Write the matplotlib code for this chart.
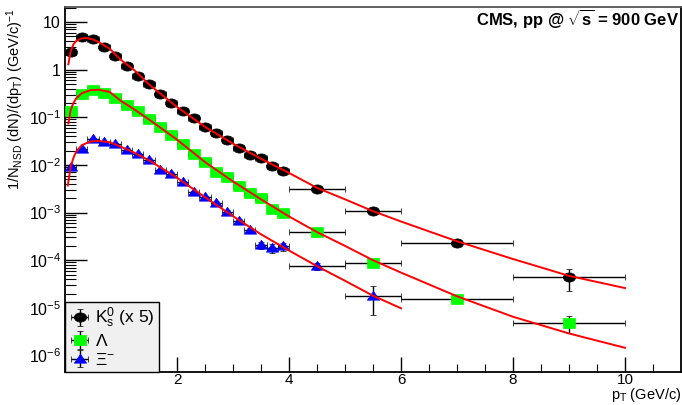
import math
import matplotlib
matplotlib.use("Agg")
import matplotlib.pyplot as plt
from matplotlib.path import Path
from matplotlib.transforms import Affine2D
from matplotlib.ticker import FixedLocator, FuncFormatter, NullFormatter

plt.rcParams['font.family'] = ['Liberation Sans', 'DejaVu Sans']
plt.rcParams['mathtext.fontset'] = 'custom'
plt.rcParams['mathtext.rm'] = 'Liberation Sans'
plt.rcParams['mathtext.it'] = 'Liberation Sans:italic'
plt.rcParams['mathtext.bf'] = 'Liberation Sans:bold'

# ---------------- data ----------------
pt = [0.1, 0.3, 0.5, 0.7, 0.9, 1.1, 1.3, 1.5, 1.7, 1.9,
      2.1, 2.3, 2.5, 2.7, 2.9, 3.1, 3.3, 3.5, 3.7, 3.9]
pt_err = [0.1] * 20

k0s_pt = pt + [4.5, 5.5, 7.0, 9.0]
k0s_xerr = pt_err + [0.5, 0.5, 1.0, 1.0]
k0s_y = [2.3, 4.8, 4.4, 3.0, 1.95, 1.2, 0.74, 0.49, 0.305, 0.2,
         0.134, 0.099, 0.063, 0.046, 0.033, 0.023, 0.0164, 0.0142, 0.0097, 0.0076,
         0.0032, 0.00107, 2.35e-4, 4.4e-5]
k0s_yerr = [0.05, 0.1, 0.09, 0.06, 0.04, 0.025, 0.015, 0.01, 0.006, 0.004,
            0.003, 0.002, 0.0013, 0.001, 0.0007, 0.0005, 0.0004, 0.0003, 0.0002, 0.0002,
            1.5e-4, 6e-5, 1.8e-5, 2.1e-5]

lam_pt = pt + [4.5, 5.5, 7.0, 9.0]
lam_xerr = pt_err + [0.5, 0.5, 1.0, 1.0]
lam_y = [0.134, 0.305, 0.37, 0.33, 0.26, 0.185, 0.134, 0.091, 0.062, 0.042,
         0.028, 0.0172, 0.0114, 0.0071, 0.0055, 0.0037, 0.0026, 0.0020, 0.0012, 0.00098,
         3.9e-4, 8.7e-5, 1.5e-5, 4.9e-6]
lam_yerr = [0.004, 0.008, 0.009, 0.008, 0.006, 0.005, 0.004, 0.003, 0.002, 0.0013,
            0.0009, 0.0006, 0.0004, 0.0003, 0.0002, 0.00015, 0.0001, 8e-5, 6e-5, 5e-5,
            2.5e-5, 1.2e-5, 2.5e-6, 2e-6]

xi_pt = pt + [4.5, 5.5]
xi_xerr = pt_err + [0.5, 0.5]
xi_y = [0.0089, 0.022, 0.035, 0.030, 0.028, 0.021, 0.0167, 0.0129, 0.0079, 0.0066,
        0.0043, 0.0027, 0.0021, 0.0016, 0.00102, 6.8e-4, 4.3e-4, 2.1e-4, 1.8e-4, 1.95e-4,
        7.5e-5, 1.8e-5]
xi_yerr = [0.0008, 0.0015, 0.002, 0.0018, 0.0016, 0.0012, 0.001, 0.0008, 0.0005, 0.0004,
           0.0003, 0.0002, 0.00015, 0.00012, 9e-5, 7e-5, 5e-5, 3.5e-5, 3.5e-5, 4e-5,
           1.2e-5, 1.1e-5]

# fit curves
k0s_fit_x = [0.06, 0.1, 0.15, 0.2, 0.3, 0.4, 0.5, 0.6, 0.8, 1.0, 1.25, 1.5, 2.0, 2.5,
             3.0, 3.5, 4.0, 4.5, 5.0, 5.5, 6.0, 7.0, 8.0, 9.0, 10.0]
k0s_fit_y = [1.3, 2.4, 3.4, 4.0, 4.55, 4.6, 4.3, 3.8, 2.75, 1.6, 0.95, 0.49, 0.165, 0.063,
             0.028, 0.0135, 0.0068, 0.0033, 0.0019, 0.00107, 6.5e-4, 2.5e-4, 1.06e-4, 4.7e-5, 2.6e-5]

lam_fit_x = [0.06, 0.1, 0.15, 0.2, 0.3, 0.45, 0.6, 0.8, 1.0, 1.2, 1.5, 2.0, 2.5,
             3.0, 3.5, 4.0, 4.5, 5.0, 5.5, 6.0, 7.0, 8.0, 9.0, 10.0]
lam_fit_y = [0.074, 0.14, 0.2, 0.25, 0.32, 0.37, 0.38, 0.34, 0.22, 0.157, 0.09, 0.034, 0.0115,
             0.0045, 0.0019, 8.3e-4, 3.9e-4, 2.0e-4, 1.0e-4, 5.5e-5, 1.75e-5, 6.5e-6, 2.9e-6, 1.45e-6]

xi_fit_x = [0.05, 0.1, 0.15, 0.2, 0.3, 0.45, 0.6, 0.8, 1.0, 1.2, 1.5, 2.0, 2.5,
            3.0, 3.5, 4.0, 4.5, 5.0, 5.5, 6.0]
xi_fit_y = [0.0037, 0.009, 0.014, 0.019, 0.026, 0.031, 0.032, 0.030, 0.024, 0.019, 0.0125,
            0.0054, 0.0021, 8.4e-4, 3.5e-4, 1.6e-4, 7.5e-5, 3.7e-5, 1.8e-5, 9.8e-6]

x_major = [2, 4, 6, 8, 10]
y_exponents = [-6, -5, -4, -3, -2, -1, 0, 1]

# ---------------- marker shapes (horizontally stretched like the reference) ----------------
ellipse = Path.unit_circle().transformed(Affine2D().scale(1.0, 0.75))
rect = Path([(-1, -0.75), (1, -0.75), (1, 0.75), (-1, 0.75), (-1, -0.75)],
            [Path.MOVETO, Path.LINETO, Path.LINETO, Path.LINETO, Path.CLOSEPOLY])
tri = Path([(-1, -0.6), (1, -0.6), (0, 0.85), (-1, -0.6)],
           [Path.MOVETO, Path.LINETO, Path.LINETO, Path.CLOSEPOLY])

# ---------------- figure ----------------
fig = plt.figure(figsize=(6.82, 4.05), dpi=100)
ax = fig.add_axes([65 / 682, 1 - 372 / 405, 616 / 682, 365 / 405])
ax.set_yscale('log')
ymin, ymax = 4.5e-7, 20.7
ax.set_xlim(0, 11)
ax.set_ylim(ymin, ymax)

for fx, fy in [(k0s_fit_x, k0s_fit_y), (lam_fit_x, lam_fit_y), (xi_fit_x, xi_fit_y)]:
    ax.plot(fx, fy, color='#ff0000', lw=1.4, zorder=4)

ebk = dict(ecolor='black', elinewidth=1.0, capsize=2, capthick=1.0, linestyle='none')
h1 = ax.errorbar(k0s_pt, k0s_y, xerr=k0s_xerr, yerr=k0s_yerr, marker=ellipse, color='black',
                 ms=8.8, mec='black', mew=0.5, zorder=3, **ebk)
h2 = ax.errorbar(lam_pt, lam_y, xerr=lam_xerr, yerr=lam_yerr, marker=rect, color='#00ff00',
                 ms=8.8, mec='#00ff00', mew=0.5, zorder=3, **ebk)
h3 = ax.errorbar(xi_pt, xi_y, xerr=xi_xerr, yerr=xi_yerr, marker=tri, color='#0000ff',
                 ms=8.8, mec='#0000ff', mew=0.5, zorder=3, **ebk)

# ticks
ax.xaxis.set_major_locator(FixedLocator(x_major))
ax.xaxis.set_minor_locator(FixedLocator([0.5, 1, 1.5, 2.5, 3, 3.5, 4.5, 5, 5.5, 6.5, 7, 7.5,
                                         8.5, 9, 9.5, 10.5]))
ax.xaxis.set_minor_formatter(NullFormatter())
ax.yaxis.set_major_locator(FixedLocator([10.0 ** e for e in y_exponents]))
yminor = [m * 10.0 ** e for e in range(-7, 2) for m in range(2, 10)]
yminor = [v for v in yminor if ymin < v < ymax]
ax.yaxis.set_minor_locator(FixedLocator(yminor))
ax.yaxis.set_minor_formatter(NullFormatter())


def yfmt(v, pos):
    e = int(round(math.log10(v)))
    if e == 1:
        return '10'
    if e == 0:
        return '1'
    return r'$10^{%d}$' % e


ax.yaxis.set_major_formatter(FuncFormatter(yfmt))
ax.tick_params(axis='both', which='both', direction='in', top=False, right=False,
               labelsize=11.5, color='black')
ax.tick_params(axis='y', which='major', length=16, width=1.0, pad=3)
ax.tick_params(axis='y', which='minor', length=8, width=0.8)
ax.tick_params(axis='x', which='major', length=11, width=1.0, pad=1, labelsize=11)
ax.tick_params(axis='x', which='minor', length=6, width=0.8)

for s in ['left', 'bottom', 'right']:
    ax.spines[s].set_color('black')
    ax.spines[s].set_linewidth(1.3)
ax.spines['top'].set_color('#555555')
ax.spines['top'].set_linewidth(1.3)

# labels
fig.text(15 / 682, 1 - 8 / 405,
         r'1/N$_{\mathrm{NSD}}$ (dN)/(dp$_{\mathrm{T}}$) (GeV/c)$^{-1}$',
         rotation=90, ha='center', va='top', fontsize=10.5)
fig.text(681 / 682, 0.5 / 405, r'p$_{\mathrm{T}}$ (GeV/c)', ha='right', va='bottom',
         fontsize=10.5)
fig.text(679 / 682, 1 - 19 / 405, r'CMS, pp @ $\mathbf{\sqrt{s}}$ = 900 GeV',
         ha='right', va='center', fontsize=12, fontweight='bold')

leg = ax.legend([h1, h2, h3],
                [r'K$^{0}_{\mathrm{s}}$ (x 5)', r'$\Lambda$', r'$\Xi^{-}$'],
                loc='lower left', bbox_to_anchor=(0, 0), borderaxespad=0,
                frameon=True, fancybox=False, facecolor='#f0f0f0', edgecolor='black',
                fontsize=12.5, handlelength=1.2, handletextpad=0.3, labelspacing=0.15,
                borderpad=0.25)
leg.get_frame().set_linewidth(1.0)
leg.get_frame().set_alpha(1)

fig.savefig('out.png', dpi=100)
